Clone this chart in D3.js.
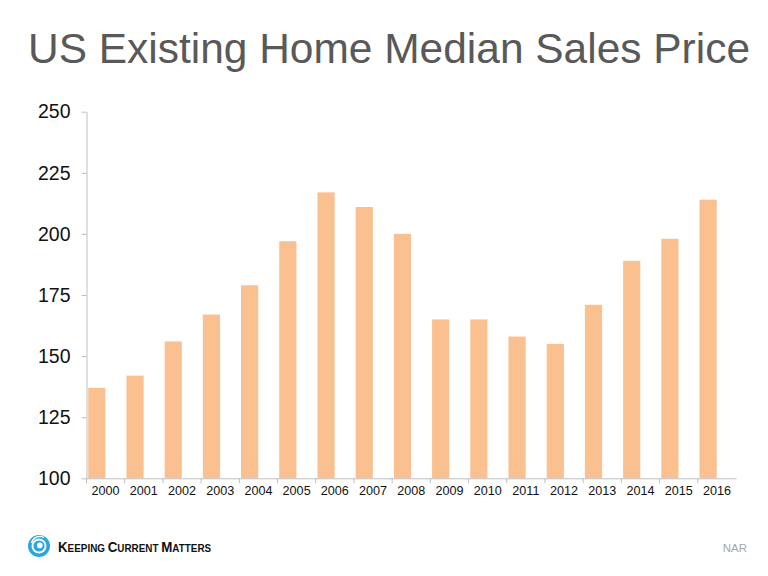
<!DOCTYPE html>
<html><head><meta charset="utf-8">
<script src="https://cdn.jsdelivr.net/npm/d3@7"></script>
<style>body{margin:0;background:#fff}svg{display:block}</style>
</head><body>
<svg id="c" width="768" height="576"></svg>
<script>
const years = ["2000","2001","2002","2003","2004","2005","2006","2007","2008","2009","2010","2011","2012","2013","2014","2015","2016"];
const prices = [137,142,156,167,179,197,217,211,200,165,165,158,155,171,189,198,214];
const yTicks = [100,125,150,175,200,225,250];

const svg = d3.select("#c");
const mLeft = 86.5, mRight = 736, mTop = 111.7, mBottom = 478.3;
const x = d3.scaleBand().domain(years).range([mLeft, mRight]).padding(0);
const y = d3.scaleLinear().domain([100,250]).range([mBottom, mTop]);

svg.append("text").attr("x", 28).attr("y", 63)
  .attr("font-family","Liberation Sans, Arial, sans-serif").attr("font-size", 43)
  .attr("textLength", 722).attr("lengthAdjust","spacingAndGlyphs")
  .attr("fill","#595959").text("US Existing Home Median Sales Price");

// bars
svg.append("g").selectAll("rect").data(years).join("rect")
  .attr("x", d => x(d) + x.step()*0.045)
  .attr("width", x.step()*0.45)
  .attr("y", (d,i) => y(prices[i]))
  .attr("height", (d,i) => y(100) - y(prices[i]))
  .attr("fill","#FAC090");

// y axis
const ya = svg.append("g").attr("transform", `translate(${mLeft},0)`)
  .call(d3.axisLeft(y).tickValues(yTicks).tickSize(5).tickPadding(11).tickSizeOuter(0));
ya.select(".domain").attr("stroke","#bfbfbf");
ya.selectAll(".tick line").attr("stroke","#bfbfbf");
ya.selectAll("text").attr("font-family","Liberation Sans, Arial, sans-serif").attr("font-size",19.5).attr("fill","#111");

// x axis
const xa = svg.append("g").attr("transform", `translate(0,${mBottom})`)
  .call(d3.axisBottom(x).tickSize(0).tickPadding(8).tickSizeOuter(0));
xa.select(".domain").attr("stroke","#bfbfbf");
xa.selectAll("text").attr("font-family","Liberation Sans, Arial, sans-serif").attr("font-size",12.6).attr("fill","#111");
xa.append("g").selectAll("line").data(years).join("line")
  .attr("x1", d => x(d)).attr("x2", d => x(d)).attr("y1",0).attr("y2",5)
  .attr("stroke","#bfbfbf");

// logo
const lg = svg.append("g").attr("transform","translate(39,546)");
lg.append("circle").attr("r",11).attr("fill","#2aa6df");
lg.append("circle").attr("r",7.5).attr("fill","#fff");
lg.append("circle").attr("r",5.6).attr("fill","#2aa6df");
lg.append("circle").attr("cx",0.8).attr("cy",-0.6).attr("r",2.8).attr("fill","#fff");
lg.append("path").attr("d","M-7.5,-3 A8.5,8.5 0 0,1 5,-8.5").attr("stroke","#fff").attr("stroke-width",1.4).attr("fill","none");

const t = svg.append("text").attr("transform","translate(58,552) scale(0.86,1)")
  .attr("font-family","Liberation Sans, Arial, sans-serif").attr("font-weight","bold").attr("fill","#111");
[["K",15.5],["EEPING ",11.5],["C",15.5],["URRENT ",11.5],["M",15.5],["ATTERS",11.5]].forEach(([s,f]) => t.append("tspan").attr("font-size",f).text(s));

svg.append("text").attr("x",747).attr("y",552).attr("text-anchor","end")
  .attr("font-family","Liberation Sans, Arial, sans-serif").attr("font-size",11.5).attr("fill","#a6a6a6").text("NAR");
</script>
</body></html>
